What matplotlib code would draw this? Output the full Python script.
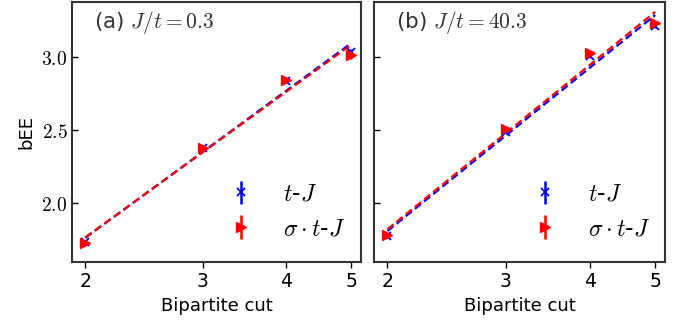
import numpy as np
import matplotlib
matplotlib.use('Agg')
import matplotlib.pyplot as plt
from matplotlib.ticker import FuncFormatter, NullFormatter, NullLocator
from matplotlib.legend_handler import HandlerErrorbar

plt.rcParams['mathtext.fontset'] = 'cm'
plt.rcParams['font.family'] = ['DejaVu Sans']

# bipartite cut positions
cuts = [2, 3, 4, 5]

# panel (a) J/t = 0.3
tj_a = [1.733, 2.377, 2.836, 3.035]
tj_a_err = [0.010, 0.012, 0.015, 0.020]
stj_a = [1.730, 2.380, 2.843, 3.012]
stj_a_err = [0.010, 0.012, 0.018, 0.025]

# panel (b) J/t = 40.3
tj_b = [1.775, 2.490, 3.010, 3.215]
tj_b_err = [0.010, 0.012, 0.015, 0.015]
stj_b = [1.785, 2.510, 3.030, 3.235]
stj_b_err = [0.010, 0.012, 0.015, 0.015]

titles = [r"(a) $J/t = 0.3$", r"(b) $J/t = 40.3$"]

fig = plt.figure(figsize=(6.88, 3.21), dpi=100)
ax_a = fig.add_axes([0.105, 0.185, 0.420, 0.810])
ax_b = fig.add_axes([0.544, 0.185, 0.423, 0.810], sharey=ax_a)

panels = [(ax_a, tj_a, tj_a_err, stj_a, stj_a_err),
          (ax_b, tj_b, tj_b_err, stj_b, stj_b_err)]

x = np.array(cuts, dtype=float)
xfit = np.array([2.0, 5.0])
for i, (ax, tj, tje, stj, stje) in enumerate(panels):
    # fits of bEE against log(cut)
    for vals, col in ((tj, 'blue'), (stj, 'red')):
        b, a = np.polyfit(np.log(x), vals, 1)
        ax.plot(xfit, a + b * np.log(xfit), '--', color=col, lw=1.6,
                dashes=(3.5, 1.8), zorder=2)
    ax.errorbar(x, tj, yerr=tje, fmt='x', color='blue', ms=6, mew=1.3,
                elinewidth=1.8, label=r"$t$-$J$", zorder=3)
    ax.errorbar(x, stj, yerr=stje, fmt='>', color='red', ms=7,
                elinewidth=1.8, label=r"$\sigma\cdot t$-$J$", zorder=3)

    ax.set_xscale('log')
    ax.set_xlim(1.912, 5.175)
    ax.set_xticks(cuts)
    ax.set_xticklabels([str(c) for c in cuts])
    ax.xaxis.set_minor_locator(NullLocator())
    ax.xaxis.set_minor_formatter(NullFormatter())
    ax.set_xlabel("Bipartite cut", fontsize=13)
    ax.tick_params(axis='x', direction='out', labelsize=13.5, length=4, width=1)
    ax.tick_params(axis='y', direction='in', labelsize=14, length=4, width=1)
    for sp in ax.spines.values():
        sp.set_linewidth(1.5)
        sp.set_color('#333333')
    ax.text(0.075, 0.92, titles[i], transform=ax.transAxes, fontsize=15.5,
            color='#333333', va='center')
    ax.legend(loc='lower right', frameon=False, fontsize=17,
              bbox_to_anchor=(1.02, 0.0), handletextpad=1.0,
              labelspacing=0.45, handlelength=1.6,
              handler_map={type(ax.containers[0]): HandlerErrorbar(yerr_size=0.5)})

ax_a.set_ylim(1.60, 3.38)
ax_a.set_yticks([2.0, 2.5, 3.0])
ax_a.yaxis.set_major_formatter(FuncFormatter(lambda v, p: r"$%.1f$" % v))
ax_a.set_ylabel("bEE", fontsize=13)
plt.setp(ax_b.get_yticklabels(), visible=False)

fig.savefig("out.png", dpi=100)
